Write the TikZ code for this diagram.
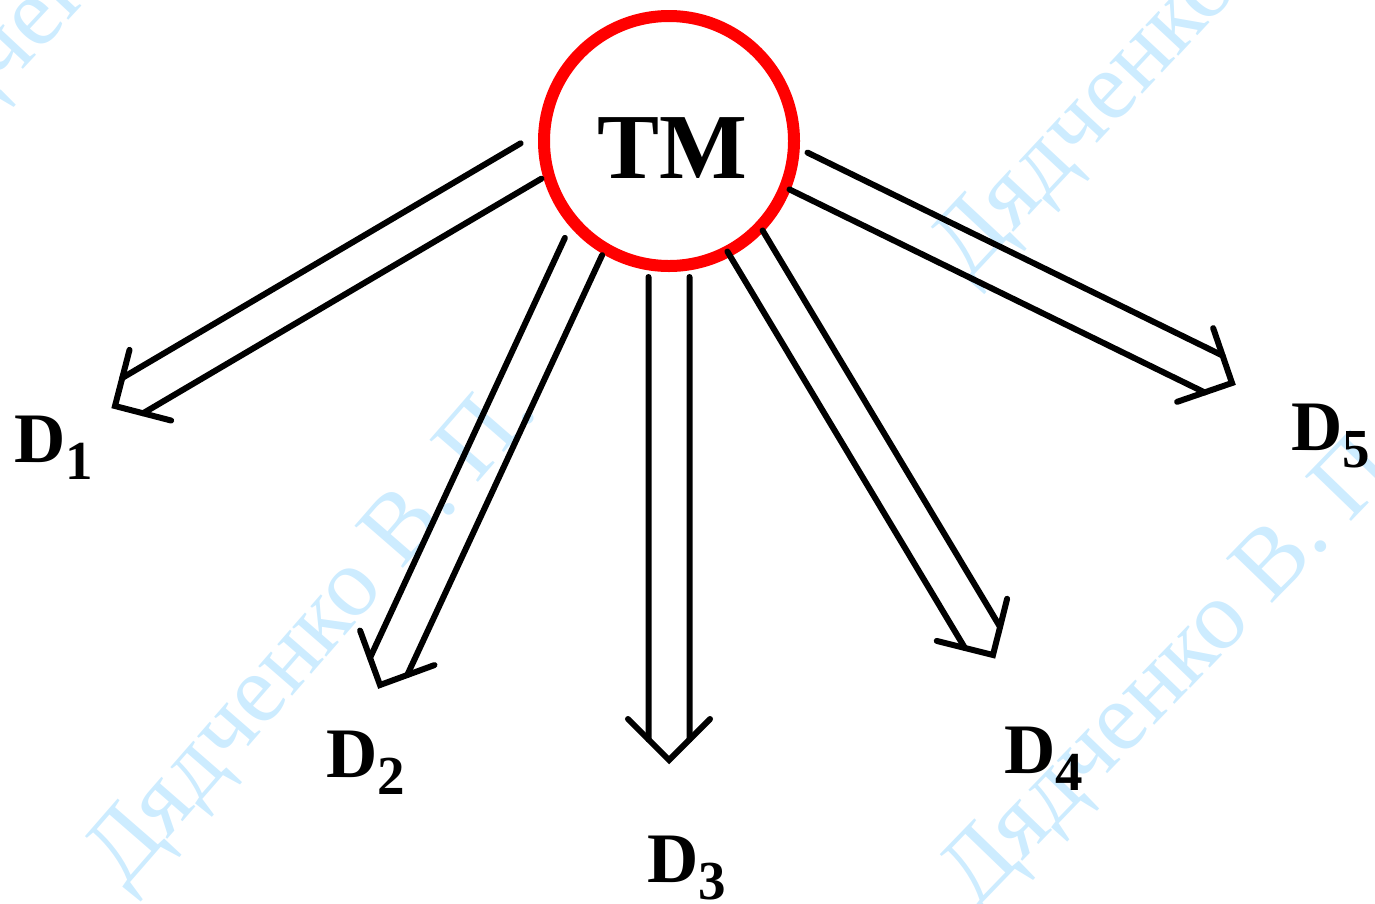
\documentclass[tikz,border=0pt]{standalone}
\usepackage{fontspec}
\setmainfont{Liberation Serif}
\usetikzlibrary{calc}
\definecolor{wmblue}{RGB}{205,236,255}
\definecolor{tmred}{RGB}{255,0,0}
\newcommand{\dlabel}[1]{{\fontsize{71pt}{71pt}\selectfont\bfseries D}\raisebox{-17pt}{\fontsize{55pt}{55pt}\selectfont\bfseries #1}}
\newcommand{\hollowarrow}[2]{%
  \draw[arrowline] ($(#1)!20.5pt!90:(#2)$) -- ($(#2)!29pt!-45:(#1)$);
  \draw[arrowline] ($(#1)!20.5pt!-90:(#2)$) -- ($(#2)!29pt!45:(#1)$);
  \draw[arrowline] ($(#2)!58pt!45:(#1)$) -- (#2) -- ($(#2)!58pt!-45:(#1)$);
}
\tikzset{
  arrowline/.style={line width=6pt, line cap=round, line join=miter, black},
  wmtext/.style={text=wmblue, font=\fontsize{98pt}{98pt}\selectfont, inner sep=0pt, anchor=base west},
  dnode/.style={inner sep=0pt, anchor=base west},
}
\begin{document}
\begin{tikzpicture}[x=1pt,y=-1pt]
\useasboundingbox (0,0) rectangle (1375,903);
% watermark
\begin{scope}
\clip (0,0) rectangle (1375,903);
\node[wmtext, rotate=49] (wm1) at (124,890) {Дядченко В. П.};
\node[wmtext, rotate=46] (wm2) at (976,910) {Дядченко В. П.};
\node[wmtext, rotate=47] (wm3) at (968,282) {Дядченко В. П.};
\node[wmtext, rotate=47] (wm4) at (-106,208) {Дядченко В. П.};
\end{scope}
% central circle
\node[circle, draw=tmred, line width=12pt, minimum size=250pt, inner sep=0pt] (tm) at (669,141) {};
\node[inner sep=0pt, anchor=base, font=\fontsize{93pt}{93pt}\selectfont\bfseries] (tmtext) at (672.5,178) {TM};
% arrow coordinates
\coordinate (s1) at (531,161);   \coordinate (t1) at (115,406);
\coordinate (s2) at (583.5,246.5); \coordinate (t2) at (380,685);
\coordinate (s3) at (669,277);   \coordinate (t3) at (669,760);
\coordinate (s4) at (745,241);   \coordinate (t4) at (993,655);
\coordinate (s5) at (798.5,171); \coordinate (t5) at (1232,383);
\hollowarrow{s1}{t1}
\hollowarrow{s2}{t2}
\hollowarrow{s3}{t3}
\hollowarrow{s4}{t4}
\hollowarrow{s5}{t5}
% labels
\node[dnode] (d1) at (14,462) {\dlabel{1}};
\node[dnode] (d2) at (326,777) {\dlabel{2}};
\node[dnode] (d3) at (647,882) {\dlabel{3}};
\node[dnode] (d4) at (1004,773) {\dlabel{4}};
\node[dnode] (d5) at (1291,450) {\dlabel{5}};
\end{tikzpicture}
\end{document}
